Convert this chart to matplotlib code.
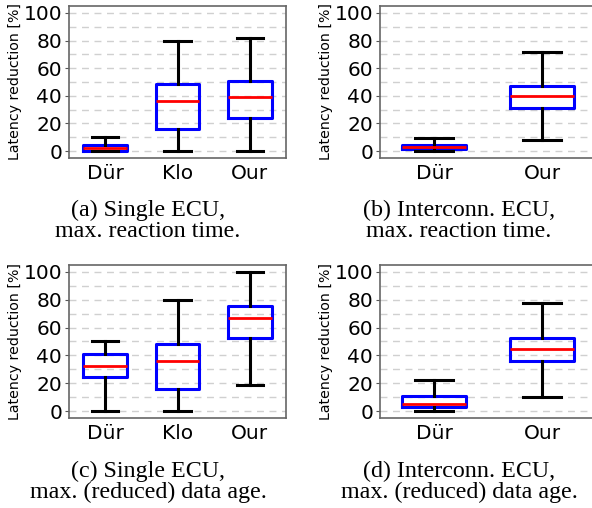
import numpy as np
import matplotlib
matplotlib.use("Agg")
import matplotlib.pyplot as plt
from matplotlib.ticker import MultipleLocator

# box statistics (values in %)
labels_a = ["Dür", "Klo", "Our"]
lo_a = [0, 0, 0]
q1_a = [0.3, 16, 24.3]
med_a = [2.3, 36, 39.2]
q3_a = [4.3, 48.8, 51]
hi_a = [10, 80, 81.7]

labels_b = ["Dür", "Our"]
lo_b = [0, 7.7]
q1_b = [1.3, 31.5]
med_b = [2.9, 40]
q3_b = [4.6, 47.4]
hi_b = [9.2, 71.5]

labels_c = ["Dür", "Klo", "Our"]
lo_c = [0, 0, 18.7]
q1_c = [24.2, 16.2, 52.8]
med_c = [32.1, 36.2, 66.7]
q3_c = [41.2, 48.5, 75.6]
hi_c = [50, 80, 100]

labels_d = ["Dür", "Our"]
lo_d = [0, 10.3]
q1_d = [2.9, 35.7]
med_d = [5.3, 44.4]
q3_d = [10.8, 52.3]
hi_d = [22.5, 77.9]

captions = [
    "(a) Single ECU,\nmax. reaction time.",
    "(b) Interconn. ECU,\nmax. reaction time.",
    "(c) Single ECU,\nmax. (reduced) data age.",
    "(d) Interconn. ECU,\nmax. (reduced) data age.",
]

W, H = 592, 508
fig = plt.figure(figsize=(W / 100, H / 100), dpi=100)


def px_axes(x0, y0, x1, y1):
    # pixel box (top-left origin) -> figure axes
    return fig.add_axes([x0 / W, 1 - y1 / H, (x1 - x0) / W, (y1 - y0) / H])


def draw(ax, labels, lo, q1, med, q3, hi):
    stats = []
    for i in range(len(labels)):
        stats.append(dict(label=labels[i], whislo=lo[i], q1=q1[i], med=med[i],
                          q3=q3[i], whishi=hi[i], fliers=[]))
    ax.bxp(stats, widths=0.6, capwidths=0.36, showfliers=False,
           boxprops=dict(color="blue", linewidth=2.2),
           whiskerprops=dict(color="black", linewidth=2.2),
           capprops=dict(color="black", linewidth=2.2),
           medianprops=dict(color="red", linewidth=2))
    ax.set_xlim(0.5, len(labels) + 0.5)
    ax.set_ylim(-5, 105)
    ax.set_yticks([0, 20, 40, 60, 80, 100])
    ax.yaxis.set_minor_locator(MultipleLocator(10))
    ax.grid(True, which="both", axis="y", linestyle=(0, (5, 4)), color="#d0d0d0", linewidth=1)
    ax.set_axisbelow(True)
    ax.tick_params(axis="y", which="minor", length=0)
    ax.tick_params(axis="both", which="major", labelsize=14.5, length=3, pad=2, color="#555555")
    ax.tick_params(axis="x", length=0, pad=4)
    for s in ax.spines.values():
        s.set_color("#666666")
        s.set_linewidth(1.2)
    ax.set_ylabel("Latency reduction [%]", fontsize=10.2, labelpad=1)


ax_a = px_axes(69, 6, 286, 158)
draw(ax_a, labels_a, lo_a, q1_a, med_a, q3_a, hi_a)
ax_b = px_axes(380, 6, 596, 158)
draw(ax_b, labels_b, lo_b, q1_b, med_b, q3_b, hi_b)
ax_c = px_axes(69, 265, 286, 418)
draw(ax_c, labels_c, lo_c, q1_c, med_c, q3_c, hi_c)
ax_d = px_axes(380, 265, 596, 418)
draw(ax_d, labels_d, lo_d, q1_d, med_d, q3_d, hi_d)

cap_pos = [(148, 221), (459, 221), (148, 482), (459, 482)]
for (cx, cy), txt in zip(cap_pos, captions):
    fig.text(cx / W, 1 - cy / H, txt, ha="center", va="center",
             family="Liberation Serif", fontsize=17.3, linespacing=1.0)

fig.savefig("out.png", dpi=100)
